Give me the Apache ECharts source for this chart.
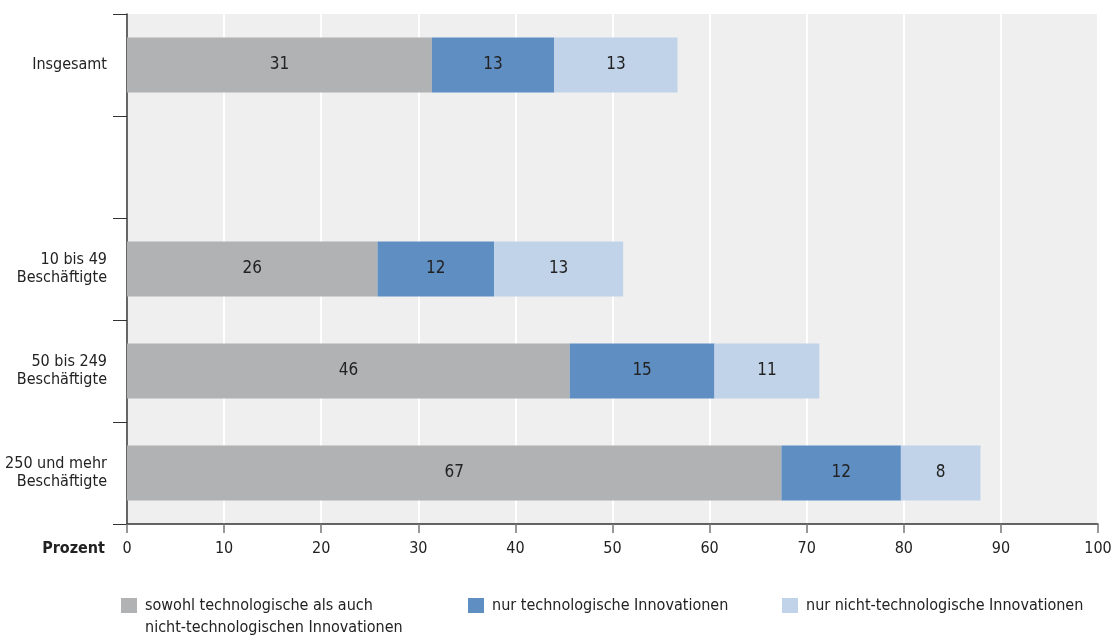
<!DOCTYPE html>
<html>
<head>
<meta charset="utf-8">
<script src="https://cdn.jsdelivr.net/npm/echarts@6/dist/echarts.min.js"></script>
<style>html,body{margin:0;padding:0;background:#fff;}#c{width:1111px;height:638px;}</style>
</head>
<body>
<div id="c"></div>
<script>
const categories = ['Insgesamt', '', '10 bis 49\nBeschäftigte', '50 bis 249\nBeschäftigte', '250 und mehr\nBeschäftigte'];
const seriesNames = ['sowohl technologische als auch nicht-technologischen Innovationen', 'nur technologische Innovationen', 'nur nicht-technologische Innovationen'];
const legendLine1 = 'sowohl technologische als auch';
const legendLine2 = 'nicht-technologischen Innovationen';
const bothValues = [31.4, null, 25.8, 45.6, 67.4];
const techValues = [12.6, null, 12.0, 14.9, 12.3];
const nonTechValues = [12.7, null, 13.3, 10.8, 8.2];
const xTicks = [0, 10, 20, 30, 40, 50, 60, 70, 80, 90, 100];

const FONT = "'Liberation Sans Narrow', 'DejaVu Sans Condensed', 'Arial Narrow', sans-serif";
const colors = ['#b1b2b3', '#5f8ec3', '#c1d3e8'];
const dataSets = [bothValues, techValues, nonTechValues];

const chart = echarts.init(document.getElementById('c'), null, {renderer: 'canvas'});

const series = dataSets.map((d, i) => ({
  name: seriesNames[i],
  type: 'bar',
  stack: 'total',
  barWidth: 55,
  data: d,
  itemStyle: {color: colors[i]},
  label: {
    show: true,
    position: 'inside',
    color: '#222',
    fontFamily: FONT,
    fontSize: 17,
    formatter: p => (p.value == null ? '' : String(Math.round(p.value)))
  },
  emphasis: {disabled: true},
  silent: true
}));

const legendBase = {
  orient: 'horizontal',
  icon: 'rect',
  itemWidth: 16,
  itemHeight: 15,
  itemGap: 8,
  padding: 0,
  textStyle: {fontFamily: FONT, fontSize: 16, color: '#222', lineHeight: 22, padding: [0, 0, 0, 3]},
  selectedMode: false
};

const option = {
  animation: false,
  backgroundColor: '#fff',
  color: colors,
  grid: {left: 127, right: 13, top: 14, bottom: 114, show: true, backgroundColor: '#efefef', borderWidth: 0, containLabel: false, outerBoundsMode: 'none'},
  legend: [
    Object.assign({}, legendBase, {data: [seriesNames[0]], left: 121, top: 594.5, formatter: () => legendLine1}),
    Object.assign({}, legendBase, {data: [seriesNames[1]], left: 468, top: 594.5}),
    Object.assign({}, legendBase, {data: [seriesNames[2]], left: 782, top: 594.5})
  ],
  graphic: [{
    type: 'text',
    left: 145,
    top: 616.5,
    silent: true,
    style: {text: legendLine2, fontFamily: FONT, fontSize: 16, fill: '#222', lineHeight: 22}
  }],
  xAxis: {
    type: 'value',
    min: 0, max: 100, interval: 10,
    name: 'Prozent',
    nameLocation: 'start',
    nameGap: 22,
    nameTextStyle: {fontFamily: FONT, fontSize: 16, fontWeight: 'bold', color: '#222', verticalAlign: 'top', padding: [17, 0, 0, 0]},
    axisLine: {show: true, lineStyle: {color: '#333', width: 1.5}},
    axisTick: {show: true, length: 9, lineStyle: {color: '#777', width: 1.5}},
    axisLabel: {
      fontFamily: FONT, fontSize: 16, color: '#222', margin: 17,
      formatter: v => (xTicks.indexOf(v) >= 0 ? String(v) : '')
    },
    splitLine: {show: true, lineStyle: {color: '#ffffff', width: 2}}
  },
  yAxis: {
    type: 'category',
    inverse: true,
    data: categories,
    axisLine: {show: true, lineStyle: {color: '#333', width: 1.5}},
    axisTick: {show: true, length: 14, lineStyle: {color: '#333', width: 1}},
    axisLabel: {fontFamily: FONT, fontSize: 16, color: '#222', margin: 20, lineHeight: 18, align: 'right'},
    splitLine: {show: false}
  },
  series: series
};

chart.setOption(option);
</script>
</body>
</html>
